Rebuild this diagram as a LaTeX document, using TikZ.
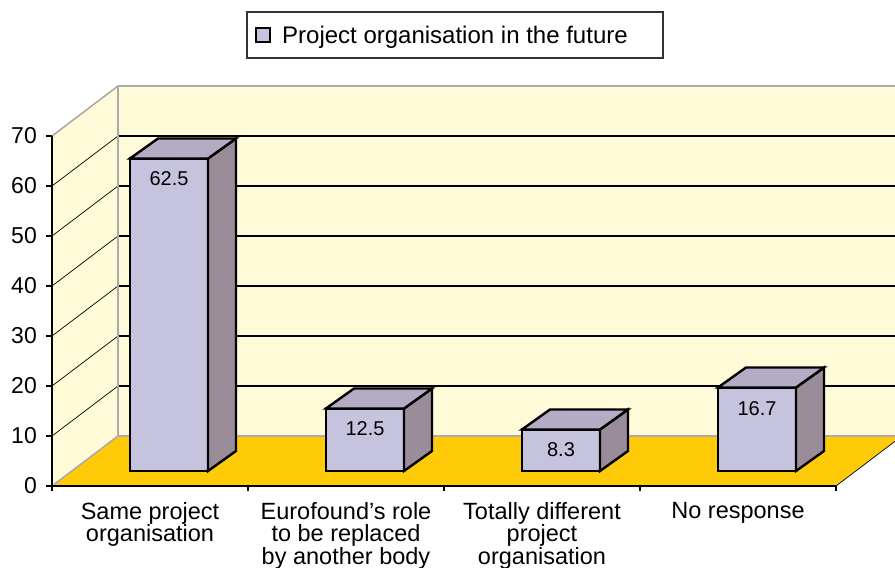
\documentclass[tikz,border=0pt]{standalone}
\usepackage{fontspec}
\setmainfont{Liberation Sans}

\newlength{\du}
\setlength{\du}{1pt}

\definecolor{wallcolor}{rgb}{1.000000, 0.980392, 0.843137}
\definecolor{floorcolor}{rgb}{1.000000, 0.792157, 0.031373}
\definecolor{edgecolor}{rgb}{0.690196, 0.662745, 0.662745}
\definecolor{barfront}{rgb}{0.776471, 0.764706, 0.874510}
\definecolor{bartop}{rgb}{0.705882, 0.674510, 0.768627}
\definecolor{barside}{rgb}{0.603922, 0.549020, 0.596078}

\tikzset{
  wallline/.style={draw=edgecolor, line width=1.6\du},
  gridline/.style={draw=black, line width=1.2\du},
  sidegrid/.style={draw=black, line width=0.7\du},
  axisline/.style={draw=black, line width=1.5\du},
  barface/.style={draw=black, line width=2.4\du, line join=miter},
  ticklabel/.style={anchor=east, inner sep=0pt, font=\fontsize{23}{23}\selectfont},
  catlabel/.style={anchor=north, align=center, inner sep=0pt, font=\fontsize{23.5}{22.5}\selectfont},
  vallabel/.style={anchor=north, inner sep=0pt, font=\fontsize{20}{20}\selectfont},
}

\begin{document}
\begin{tikzpicture}
\pgftransformxscale{1.000000}
\pgftransformyscale{-1.000000}
\useasboundingbox (0\du,0\du) rectangle (895\du,568\du);
\clip (0\du,0\du) rectangle (895\du,568\du);
% walls and floor
\fill[wallcolor] (52\du,486\du)--(52\du,136\du)--(118\du,86\du)--(118\du,436\du)--cycle;
\fill[wallcolor] (118\du,86\du)--(902\du,86\du)--(902\du,436\du)--(118\du,436\du)--cycle;
\fill[floorcolor] (52\du,486\du)--(836\du,486\du)--(902\du,436\du)--(118\du,436\du)--cycle;
% gridlines, back wall
\draw[gridline] (118\du,386\du)--(902\du,386\du);
\draw[gridline] (118\du,336\du)--(902\du,336\du);
\draw[gridline] (118\du,286\du)--(902\du,286\du);
\draw[gridline] (118\du,236\du)--(902\du,236\du);
\draw[gridline] (118\du,186\du)--(902\du,186\du);
\draw[gridline] (118\du,136\du)--(902\du,136\du);
% gridlines, side wall
\draw[sidegrid] (52\du,436\du)--(118\du,386\du);
\draw[sidegrid] (52\du,386\du)--(118\du,336\du);
\draw[sidegrid] (52\du,336\du)--(118\du,286\du);
\draw[sidegrid] (52\du,286\du)--(118\du,236\du);
\draw[sidegrid] (52\du,236\du)--(118\du,186\du);
\draw[sidegrid] (52\du,186\du)--(118\du,136\du);
% wall edges
\draw[wallline] (52\du,136\du)--(118\du,86\du)--(902\du,86\du);
\draw[wallline] (118\du,86\du)--(118\du,436\du)--(902\du,436\du);
\draw[wallline] (52\du,486\du)--(118\du,436\du);
\draw[sidegrid] (836\du,486\du)--(902\du,436\du);
% axes
\draw[axisline] (52\du,136\du)--(52\du,486\du)--(836\du,486\du);
\draw[axisline] (46\du,136\du)--(52\du,136\du);
\draw[axisline] (46\du,186\du)--(52\du,186\du);
\draw[axisline] (46\du,236\du)--(52\du,236\du);
\draw[axisline] (46\du,286\du)--(52\du,286\du);
\draw[axisline] (46\du,336\du)--(52\du,336\du);
\draw[axisline] (46\du,386\du)--(52\du,386\du);
\draw[axisline] (46\du,436\du)--(52\du,436\du);
\draw[axisline] (46\du,486\du)--(52\du,486\du);
\draw[axisline] (52\du,486\du)--(52\du,491\du);
\draw[axisline] (248\du,486\du)--(248\du,491\du);
\draw[axisline] (444\du,486\du)--(444\du,491\du);
\draw[axisline] (640\du,486\du)--(640\du,491\du);
\draw[axisline] (836\du,486\du)--(836\du,491\du);
\node[ticklabel] (ytick70) at (37\du,136\du) {70};
\node[ticklabel] (ytick60) at (37\du,186\du) {60};
\node[ticklabel] (ytick50) at (37\du,236\du) {50};
\node[ticklabel] (ytick40) at (37\du,286\du) {40};
\node[ticklabel] (ytick30) at (37\du,336\du) {30};
\node[ticklabel] (ytick20) at (37\du,386\du) {20};
\node[ticklabel] (ytick10) at (37\du,436\du) {10};
\node[ticklabel] (ytick0) at (37\du,486\du) {0};
% bar 1
\filldraw[barface, fill=barfront] (130\du,471\du)--(130\du,158.5\du)--(208\du,158.5\du)--(208\du,471\du)--cycle;
\filldraw[barface, fill=barside] (208\du,471\du)--(236\du,451\du)--(236\du,138.5\du)--(208\du,158.5\du)--cycle;
\filldraw[barface, fill=bartop] (130\du,158.5\du)--(158\du,138.5\du)--(236\du,138.5\du)--(208\du,158.5\du)--cycle;
\node[vallabel] (val1) at (169\du,171\du) {62.5};
% bar 2
\filldraw[barface, fill=barfront] (326\du,471\du)--(326\du,408.5\du)--(404\du,408.5\du)--(404\du,471\du)--cycle;
\filldraw[barface, fill=barside] (404\du,471\du)--(432\du,451\du)--(432\du,388.5\du)--(404\du,408.5\du)--cycle;
\filldraw[barface, fill=bartop] (326\du,408.5\du)--(354\du,388.5\du)--(432\du,388.5\du)--(404\du,408.5\du)--cycle;
\node[vallabel] (val2) at (365\du,421\du) {12.5};
% bar 3
\filldraw[barface, fill=barfront] (522\du,471\du)--(522\du,429.5\du)--(600\du,429.5\du)--(600\du,471\du)--cycle;
\filldraw[barface, fill=barside] (600\du,471\du)--(628\du,451\du)--(628\du,409.5\du)--(600\du,429.5\du)--cycle;
\filldraw[barface, fill=bartop] (522\du,429.5\du)--(550\du,409.5\du)--(628\du,409.5\du)--(600\du,429.5\du)--cycle;
\node[vallabel] (val3) at (561\du,442\du) {8.3};
% bar 4
\filldraw[barface, fill=barfront] (718\du,471\du)--(718\du,387.5\du)--(796\du,387.5\du)--(796\du,471\du)--cycle;
\filldraw[barface, fill=barside] (796\du,471\du)--(824\du,451\du)--(824\du,367.5\du)--(796\du,387.5\du)--cycle;
\filldraw[barface, fill=bartop] (718\du,387.5\du)--(746\du,367.5\du)--(824\du,367.5\du)--(796\du,387.5\du)--cycle;
\node[vallabel] (val4) at (757\du,401\du) {16.7};
% categories
\node[catlabel] (cat1) at (150\du,502\du) {Same project\\organisation};
\node[catlabel] (cat2) at (346\du,502\du) {Eurofound’s role\\to be replaced\\by another body};
\node[catlabel] (cat3) at (542\du,502\du) {Totally different\\project\\organisation};
\node[catlabel] (cat4) at (738\du,502\du) {No response};
% legend
\draw[draw=black!80, line width=1.5\du, fill=white] (247\du,12\du)--(663\du,12\du)--(663\du,58\du)--(247\du,58\du)--cycle;
\filldraw[draw=black, line width=2\du, fill=barfront] (256\du,28\du)--(270\du,28\du)--(270\du,42\du)--(256\du,42\du)--cycle;
\node[anchor=base west, inner sep=0pt, font=\fontsize{24}{24}\selectfont] (legendtext) at (282\du,43.5\du) {Project organisation in the future};
\end{tikzpicture}
\end{document}
